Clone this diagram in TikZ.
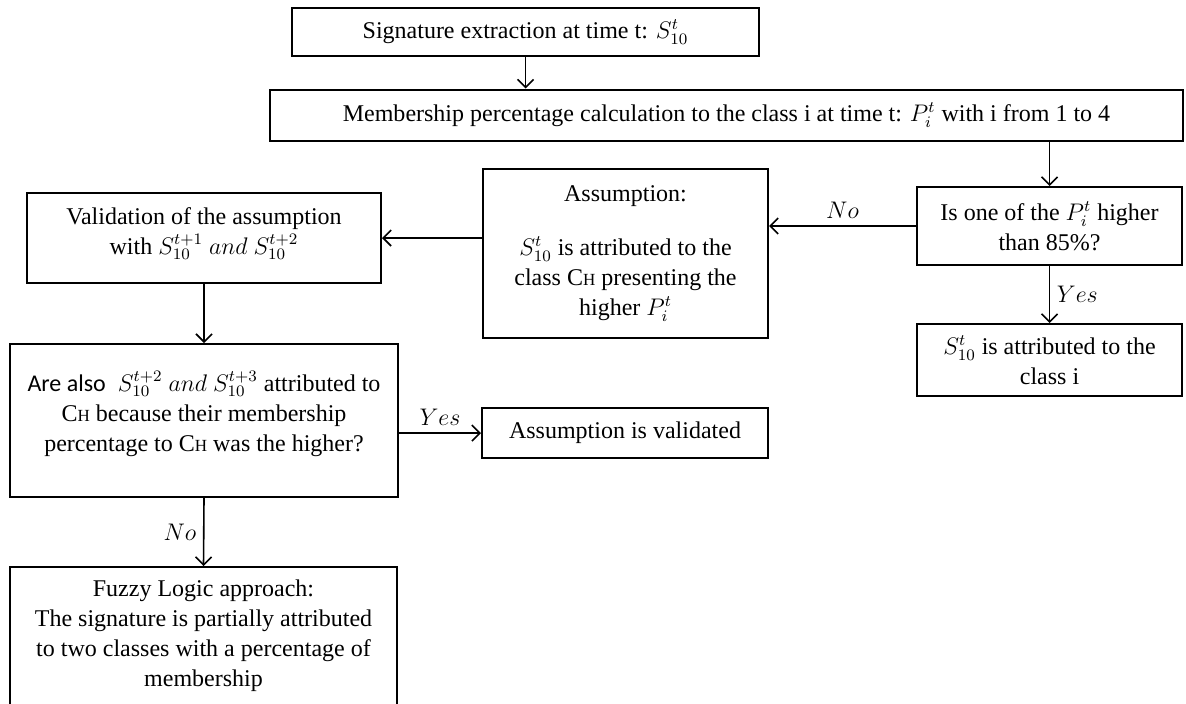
\documentclass[tikz,border=0pt]{standalone}
\usepackage{fontspec}
\setmainfont{Liberation Serif}
\newfontfamily\calibri{Carlito}
\usetikzlibrary{arrows.meta}
\newcommand{\CH}{C{\fontsize{8.5}{8.5}\selectfont H}}

\begin{document}
\begin{tikzpicture}[x=0.5pt, y=-0.5pt, font=\fontsize{12}{15}\selectfont,
        box/.style={draw, rectangle, line width=1pt, align=center, inner sep=0pt},
        >={Straight Barb[length=4pt, width=8pt]}]
        \useasboundingbox (0, 0) rectangle (1186, 703);
        \clip (0, 0) rectangle (1186, 703);

        % Boxes
        \node[box, minimum width=233.5pt, minimum height=24pt] (sig) at (525.5, 32) {Signature extraction at time t: $S_{10}^{t}$};
        \node[box, minimum width=456.5pt, minimum height=25.5pt] (memb) at (726.5, 115) {Membership percentage calculation to the class i at time t: $P_{i}^{t}$ with i from 1 to 4};
        \node[box, minimum width=132.5pt, minimum height=39pt] (test) at (1049.5, 226) {Is one of the $P_{i}^{t}$ higher\\than 85\%?};
        \node[box, minimum width=132.5pt, minimum height=36pt] (cls) at (1049.5, 360) {$S_{10}^{t}$ is attributed to the\\class i};
        \node[box, minimum width=142.5pt, minimum height=84.5pt] (assum) at (625.5, 253.5) {Assumption:\\[12pt]$S_{10}^{t}$ is attributed to the\\class \CH{} presenting the\\higher $P_{i}^{t}$};
        \node[box, minimum width=177pt, minimum height=45pt] (valid) at (204, 238) {Validation of the assumption\\with $S_{10}^{t+1}$ $and$ $S_{10}^{t+2}$\\[-8pt]~};
        \node[box, minimum width=194pt, minimum height=76.5pt] (check) at (204, 420.5) {{\calibri Are also}\ \ $S_{10}^{t+2}$ $and$ $S_{10}^{t+3}$ attributed to\\\CH{} because their membership\\percentage to \CH{} was the higher?\\[-6pt]~};
        \node[box, minimum width=143pt, minimum height=25pt] (ok) at (625, 433) {Assumption is validated};
        \node[box, minimum width=193.5pt, minimum height=69pt] (fuzzy) at (203.5, 636) {Fuzzy Logic approach:\\The signature is partially attributed\\to two classes with a percentage of\\membership};

        % Arrows
        \draw[->, line width=0.8pt] (sig.south) -- (memb.north -| sig.south);
        \draw[->, line width=0.8pt] (memb.south -| test.north) -- (test.north);
        \draw[->, line width=0.8pt] (test.west) -- node[above] {$No$} (test.west -| assum.east);
        \draw[->, line width=0.8pt] (assum.west |- valid.east) -- (valid.east);
        \draw[->, line width=0.8pt] (test.south) -- node[right] {$Yes$} (cls.north);
        \draw[->, line width=0.8pt] (valid.south) -- (check.north);
        \draw[->, line width=0.8pt] (check.east |- ok.west) -- node[above] {$Yes$} (ok.west);
        \draw[->, line width=0.8pt] (check.south) -- node[left] {$No$} (fuzzy.north);
    \end{tikzpicture}
\end{document}
